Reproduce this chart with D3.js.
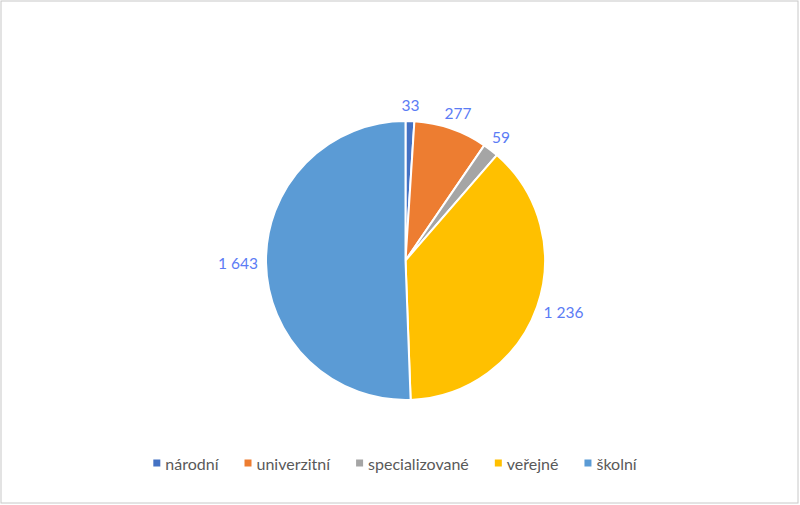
<!DOCTYPE html>
<html><head><meta charset="utf-8">
<script src="https://cdn.jsdelivr.net/npm/d3@7"></script>
<style>body{margin:0;background:#fff}svg{display:block}text{font-family:Lato,"Open Sans",sans-serif}</style>
</head><body><svg id="c" width="800" height="505"></svg>
<script>
const categories = ["národní","univerzitní","specializované","veřejné","školní"];
const values = [33,277,59,1236,1643];
const valueLabels = ["33","277","59","1 236","1 643"];
const colors = ["#4472C4","#ED7D31","#A5A5A5","#FFC000","#5B9BD5"];

const svg = d3.select("#c");
svg.append("rect").attr("x",1).attr("y",1).attr("width",797).attr("height",502)
  .attr("fill","#fff").attr("stroke","#c8c8c8").attr("stroke-width",1);

const cx = 405.5, cy = 260.5, r = 139.5;
const g = svg.append("g").attr("transform",`translate(${cx},${cy})`);
const pie = d3.pie().sort(null).value(d=>d)(values);
const arc = d3.arc().innerRadius(0).outerRadius(r);
g.selectAll("path").data(pie).join("path")
  .attr("d",arc).attr("fill",(d,i)=>colors[i])
  .attr("stroke","#fff").attr("stroke-width",2).attr("stroke-linejoin","round");

const lab = g.selectAll("text.v").data(pie).join("text").attr("class","v")
  .attr("font-size",15.5).attr("fill","#5B7CF5")
  .attr("text-anchor","middle").attr("dominant-baseline","central")
  .text((d,i)=>valueLabels[i]);
lab.each(function(d){
  const a=(d.startAngle+d.endAngle)/2;
  const w=this.getComputedTextLength()/2, h=8;
  const rr=r+8;
  const x=Math.sin(a)*rr+Math.sin(a)*w;
  const y=-Math.cos(a)*rr-Math.cos(a)*h;
  d3.select(this).attr("x",x).attr("y",y);
});

// legend
const leg = svg.append("g");
const items = leg.selectAll("g").data(categories).join("g");
items.append("rect").attr("width",7).attr("height",7).attr("y",-3.5).attr("fill",(d,i)=>colors[i]);
items.append("text").attr("x",12).attr("dominant-baseline","central")
  .attr("font-size",16).attr("fill","#595959").text(d=>d);
let xo=0; const gap=26;
items.each(function(){
  const w=12+this.querySelector("text").getComputedTextLength();
  d3.select(this).attr("transform",`translate(${xo},0)`);
  xo+=w+gap;
});
const total=xo-gap;
leg.attr("transform",`translate(${395-total/2},463)`);
</script></body></html>
